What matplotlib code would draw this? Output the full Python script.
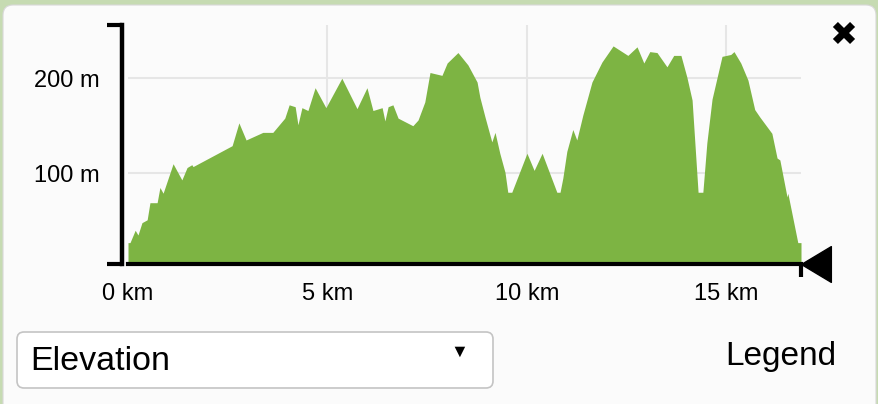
import numpy as np
import matplotlib
matplotlib.use('Agg')
import matplotlib.pyplot as plt
from matplotlib.patches import FancyBboxPatch
from matplotlib.path import Path

plt.rcParams['font.family'] = ['Liberation Sans', 'DejaVu Sans']

# distance along the track (km) and elevation (m)
dist_km = [0.0, 0.05, 0.18, 0.25, 0.35, 0.48, 0.55, 0.73, 0.80, 0.88,
           1.13, 1.35, 1.48, 1.60, 1.63, 2.61, 2.78, 2.96, 3.38, 3.63,
           3.93, 4.04, 4.19, 4.26, 4.36, 4.51, 4.69, 4.96, 5.36, 5.74,
           5.99, 6.14, 6.37, 6.44, 6.52, 6.64, 6.77, 7.14, 7.27, 7.44,
           7.57, 7.87, 8.00, 8.27, 8.52, 8.75, 8.82, 8.95, 9.12, 9.20,
           9.32, 9.45, 9.52, 9.62, 10.00, 10.18, 10.38, 10.75, 10.83, 10.90,
           11.00, 11.15, 11.25, 11.40, 11.63, 11.88, 12.16, 12.53, 12.76, 12.93,
           13.08, 13.26, 13.51, 13.68, 13.86, 14.01, 14.14, 14.29, 14.41, 14.51,
           14.64, 14.89, 15.11, 15.19, 15.36, 15.54, 15.71, 15.84, 16.14, 16.27,
           16.34, 16.52, 16.54, 16.79, 16.87]
elev_m = [27, 27, 40, 35, 48, 51, 69, 69, 85, 79,
          110, 93, 106, 109, 107, 129, 153, 135, 143, 143,
          158, 172, 170, 151, 169, 166, 190, 169, 200, 168,
          190, 166, 169, 155, 170, 172, 158, 150, 156, 175,
          206, 203, 216, 227, 214, 196, 180, 159, 133, 143,
          121, 101, 80, 80, 121, 103, 121, 80, 80, 95,
          123, 146, 135, 161, 196, 217, 234, 224, 233, 216,
          228, 227, 212, 224, 224, 201, 177, 80, 80, 132,
          178, 223, 225, 228, 216, 198, 167, 159, 142, 116,
          114, 75, 79, 27, 27]

x_ticks = [0, 5, 10, 15]
x_labels = ['0 km', '5 km', '10 km', '15 km']
y_ticks = [100, 200]
y_labels = ['100 m', '200 m']
y_range = (4.5, 256)

W, H = 879, 404
fig = plt.figure(figsize=(W / 100, H / 100), dpi=100)
fig.patch.set_facecolor('#c6dbb2')

# background layer in pixel coordinates
bg = fig.add_axes([0, 0, 1, 1], zorder=0)
bg.set_xlim(0, W)
bg.set_ylim(H, 0)
bg.axis('off')
bg.add_patch(FancyBboxPatch((3, 5), 873, 410, boxstyle='round,pad=0,rounding_size=10',
                            fc='#fbfbfb', ec='#d8d8d8', lw=0.8))
bg.add_patch(FancyBboxPatch((17, 332), 476, 56, boxstyle='round,pad=0,rounding_size=7',
                            fc='white', ec='#c4c4c4', lw=1.2))
bg.text(30, 361, 'Elevation', fontsize=24.5, va='center', ha='left', color='black')
bg.text(459, 352, '\u25bc', fontsize=13, va='center', ha='center', color='black')
bg.text(836, 357, 'Legend', fontsize=24, va='center', ha='right', color='black')
bg.text(843, 36, '\u2716', fontsize=24, va='center', ha='center', color='black',
        family=['DejaVu Sans'])

ax = fig.add_axes([128 / W, (H - 264) / H, (801 - 128) / W, 239 / H], zorder=1)
ax.patch.set_alpha(0)
ax.fill_between(dist_km, elev_m, y_range[0], color='#7db443', lw=0, zorder=2)
ax.set_xlim(0, dist_km[-1])
ax.set_ylim(*y_range)

for t in x_ticks[1:]:
    ax.axvline(t, color='#e6e6e6', lw=1.5, zorder=1)
for t in y_ticks:
    ax.axhline(t, color='#e6e6e6', lw=1.5, zorder=1)

for s in ['top', 'right']:
    ax.spines[s].set_visible(False)
ax.spines['left'].set_position(('outward', 4.3))
ax.spines['left'].set_linewidth(3.2)
ax.spines['bottom'].set_linewidth(3)
ax.spines['bottom'].set_zorder(3)

ax.set_xticks(x_ticks)
ax.set_xticklabels(x_labels, fontsize=17)
ax.set_yticks(y_ticks)
ax.set_yticklabels(y_labels, fontsize=17)
ax.set_xticks([0, dist_km[-1]], minor=True)
ax.set_yticks(list(y_range), minor=True)
ax.tick_params(which='major', length=0)
ax.tick_params(axis='x', which='major', pad=14)
ax.tick_params(axis='y', which='major', pad=16)
ax.tick_params(which='minor', direction='out', width=3, color='black')
ax.tick_params(axis='x', which='minor', length=9.5)
ax.tick_params(axis='y', which='minor', length=11)

# drag handle at the end of the track
handle = Path([(0, 0), (1, 0.6), (1, -0.6), (0, 0)],
              [Path.MOVETO, Path.LINETO, Path.LINETO, Path.CLOSEPOLY])
ax.plot([dist_km[-1]], [y_range[0]], marker=handle, markersize=43, color='black',
        clip_on=False, zorder=5)

fig.savefig('out.png', dpi=100, facecolor=fig.get_facecolor())
